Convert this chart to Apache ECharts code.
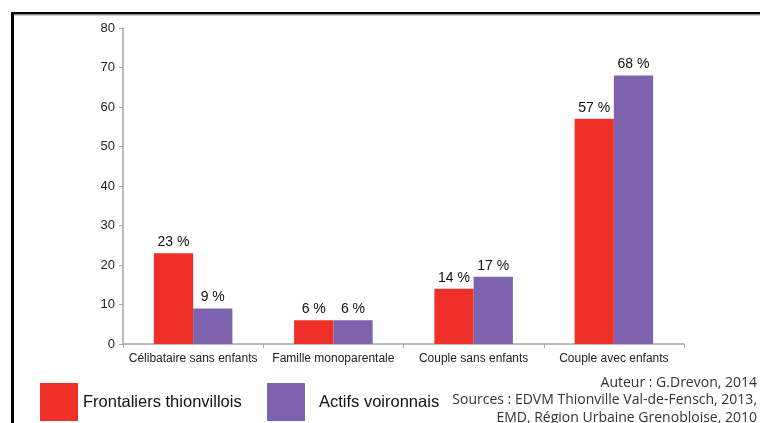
<!DOCTYPE html>
<html><head><meta charset="utf-8">
<script src="https://cdn.jsdelivr.net/npm/echarts@6/dist/echarts.min.js"></script>
<style>html,body{margin:0;padding:0;background:#fff}#c{width:760px;height:423px}</style>
</head><body><div id="c"></div>
<script>
const categories = ['Célibataire sans enfants', 'Famille monoparentale', 'Couple sans enfants', 'Couple avec enfants'];
const frontaliers = [23, 6, 14, 57];
const actifs = [9, 6, 17, 68];
const seriesNames = ['Frontaliers thionvillois', 'Actifs voironnais'];
const sourceLines = ['Auteur : G.Drevon, 2014', 'Sources : EDVM Thionville Val-de-Fensch, 2013,', 'EMD, Région Urbaine Grenobloise, 2010'];

const chart = echarts.init(document.getElementById('c'));
const labelStyle = {show: true, position: 'top', formatter: p => p.value + ' %', color: '#111', fontSize: 14, fontFamily: 'Liberation Sans, Arial', distance: 4};
const legendBase = {top: 383, itemWidth: 38, itemHeight: 38, padding: 0, icon: 'rect',
  textStyle: {fontSize: 16.5, color: '#111'}};
chart.setOption({
  animation: false,
  textStyle: {fontFamily: 'Liberation Sans, Arial'},
  grid: {left: 123, right: 76, top: 28, bottom: 79, containLabel: false},
  legend: [
    Object.assign({}, legendBase, {left: 40, data: [seriesNames[0]], itemGap: 0}),
    Object.assign({}, legendBase, {left: 267, data: [seriesNames[1]], itemGap: 0,
      textStyle: {fontSize: 16.5, color: '#111', padding: [0, 0, 0, 9]}})
  ],
  xAxis: {
    type: 'category', data: categories,
    axisLine: {lineStyle: {color: '#a6a6a6', width: 1.5}},
    axisTick: {show: true, length: 4, lineStyle: {color: '#a6a6a6'}},
    axisLabel: {color: '#222', fontSize: 12, margin: 9, interval: 0}
  },
  yAxis: {
    type: 'value', min: 0, max: 80, interval: 10,
    splitLine: {show: false},
    axisLine: {show: true, lineStyle: {color: '#a6a6a6', width: 1.5}},
    axisTick: {show: true, length: 4, lineStyle: {color: '#a6a6a6'}},
    axisLabel: {color: '#222', fontSize: 13, margin: 8}
  },
  series: [
    {name: seriesNames[0], type: 'bar', data: frontaliers, barGap: '0%', barCategoryGap: '44%',
     itemStyle: {color: '#ee3029'}, label: labelStyle},
    {name: seriesNames[1], type: 'bar', data: actifs,
     itemStyle: {color: '#7d63ad'}, label: labelStyle}
  ],
  graphic: [
    {type: 'rect', shape: {x: 11, y: 12, width: 760, height: 2.5}, style: {fill: '#000'}},
    {type: 'rect', shape: {x: 11, y: 14.5, width: 760, height: 1}, style: {fill: '#999'}},
    {type: 'rect', shape: {x: 11, y: 12, width: 3, height: 420}, style: {fill: '#000'}},
    ...sourceLines.map((t, i) => ({
      type: 'text', x: 757, y: 383 + i * 17.5,
      style: {text: t, fill: '#333', font: '14px "Open Sans", sans-serif', align: 'right', verticalAlign: 'middle'}
    }))
  ]
});
</script></body></html>
